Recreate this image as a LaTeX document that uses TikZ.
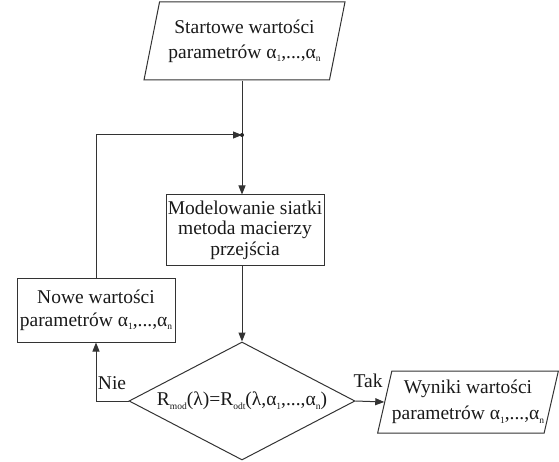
\documentclass[tikz,border=0pt]{standalone}
\usepackage{fontspec}
\setmainfont{Liberation Serif}
\usetikzlibrary{shapes.geometric,arrows.meta}
\newcommand{\lowsub}[1]{\raisebox{-0.4ex}{\fontsize{9.5}{9.5}\selectfont #1}}
\begin{document}
\begin{tikzpicture}[x=1pt,y=1pt,
  line width=1pt,
  every node/.style={font=\fontsize{19.5}{22}\selectfont, text=black!90},
  box/.style={draw=black!80, rectangle, align=center, inner sep=0pt},
  para/.style={draw=black!80, trapezium, trapezium stretches body, align=center, inner sep=0pt},
  dec/.style={draw=black!80, diamond, inner sep=0pt},
  arr/.style={draw=black!80, -{Triangle[length=9pt,width=7pt]}},
  ln/.style={draw=black!80}]
\useasboundingbox (0,0) rectangle (559,461);
\node[para, trapezium left angle=70, trapezium right angle=110,
      minimum width=201, minimum height=78,
      font=\fontsize{19.5}{25}\selectfont] (start) at (244.5,420)
      {Startowe wartości\\parametrów α\lowsub{1},...,α\lowsub{n}};
\coordinate (j) at (242,326);
\node[box, minimum width=158, minimum height=70,
      font=\fontsize{19.5}{20.5}\selectfont] (mid) at (245,231)
      {Modelowanie siatki\\metoda macierzy\\przejścia};
\node[box, minimum width=158, minimum height=64,
      font=\fontsize{19.5}{23}\selectfont] (left) at (96,151)
      {Nowe wartości\\parametrów α\lowsub{1},...,α\lowsub{n}};
\node[dec, minimum width=226, minimum height=118] (dec) at (242,60) {};
\node (cond) at (dec.center) {R\lowsub{mod}(λ)=R\lowsub{odt}(λ,α\lowsub{1},...,α\lowsub{n})};
\node[para, trapezium left angle=72, trapezium right angle=108,
      minimum width=180, minimum height=62,
      font=\fontsize{19.5}{26}\selectfont] (res) at (468,59)
      {Wyniki wartości\\parametrów α\lowsub{1},...,α\lowsub{n}};
\draw[ln] (start.south -| j) -- (j);
\draw[arr] (j) -- (mid.north -| j);
\draw[arr] (left.north) |- (j);
\fill[black!85] (j) circle (2);
\draw[arr] (mid.south -| j) -- (dec.north);
\draw[arr] (dec.west) -| (left.south);
\draw[arr] (dec.east) -- (res.west);
\node (nie) at (112,78) {Nie};
\node (tak) at (368,80) {Tak};
\end{tikzpicture}
\end{document}
